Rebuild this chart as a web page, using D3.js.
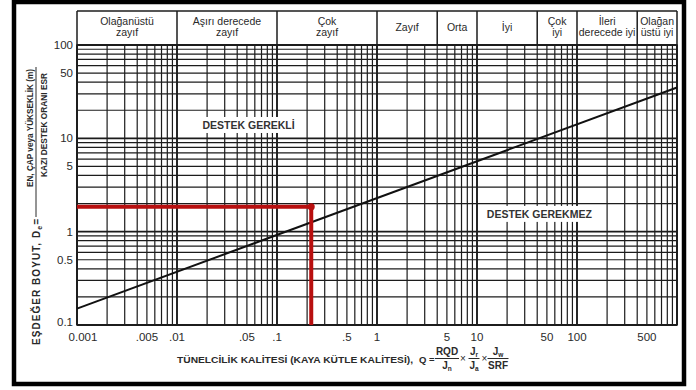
<!DOCTYPE html>
<html>
<head>
<meta charset="utf-8">
<script src="https://cdn.jsdelivr.net/npm/d3@7"></script>
<style>
  html, body { margin: 0; padding: 0; background: #fff; }
  svg { display: block; font-family: "Liberation Sans", Arial, sans-serif; }
</style>
</head>
<body>
<svg id="chart" width="696" height="390"></svg>
<script>
// Rock-mass quality Q (log) against equivalent dimension De (log)
const qDomain = [0.001, 1000];
const deDomain = [0.1, 100];

const qTicks = [0.001, 0.005, 0.01, 0.05, 0.1, 0.5, 1, 5, 10, 50, 100, 500];
const qTickLabels = ["0.001", ".005", ".01", ".05", ".1", ".5", "1", "5", "10", "50", "100", "500"];
const deTicks = [0.1, 0.5, 1, 5, 10, 50, 100];
const deTickLabels = ["0.1", "0.5", "1", "5", "10", "50", "100"];

// rock-mass class boundaries in Q and their names
const classBounds = [0.001, 0.01, 0.1, 1, 4, 10, 40, 100, 400, 1000];
const classNames = [
  ["Olağanüstü", "zayıf"],
  ["Aşırı derecede", "zayıf"],
  ["Çok", "zayıf"],
  ["Zayıf"],
  ["Orta"],
  ["İyi"],
  ["Çok", "iyi"],
  ["İleri", "derecede iyi"],
  ["Olağan", "üstü iyi"]
];

// support / no-support boundary line
const boundaryQ = [0.001, 1000];
const boundaryDe = [0.15, 35];

// worked example point
const exampleQ = 0.22;
const exampleDe = 1.85;

// region labels
const regionLabels = [
  { text: "DESTEK GEREKLİ", q: 0.052, de: 13.9 },
  { text: "DESTEK GEREKMEZ", q: 42, de: 1.55 }
];

(function draw() {
  const svg = d3.select("#chart");
  const pl = 77, pr = 677, pt = 45, pb = 325, headTop = 11;

  const x = d3.scaleLog().domain(qDomain).range([pl, pr]);
  const y = d3.scaleLog().domain(deDomain).range([pb, pt]);

  const ink = "#1c1c1c";

  // outer frame
  svg.append("rect").attr("x", 14).attr("y", 2).attr("width", 670).attr("height", 382)
    .attr("fill", "#fff").attr("stroke", "#000").attr("stroke-width", 4.5);

  const isDecade = v => Math.abs(Math.log10(v) - Math.round(Math.log10(v))) < 1e-9;

  // grid
  const grid = svg.append("g");
  grid.selectAll("line.v").data(x.ticks()).join("line")
    .attr("x1", d => x(d)).attr("x2", d => x(d))
    .attr("y1", pt).attr("y2", pb)
    .attr("stroke", ink).attr("stroke-width", d => isDecade(d) ? 1.9 : 1.2);
  grid.selectAll("line.h").data(y.ticks()).join("line")
    .attr("x1", pl).attr("x2", pr)
    .attr("y1", d => y(d)).attr("y2", d => y(d))
    .attr("stroke", ink).attr("stroke-width", d => isDecade(d) ? 1.9 : 1.2);

  // plot frame
  svg.append("rect").attr("x", pl).attr("y", pt).attr("width", pr - pl).attr("height", pb - pt)
    .attr("fill", "none").attr("stroke", ink).attr("stroke-width", 1.5);

  // class header
  const head = svg.append("g");
  head.append("line").attr("x1", pl).attr("x2", pr).attr("y1", headTop).attr("y2", headTop)
    .attr("stroke", ink).attr("stroke-width", 1.5);
  head.append("line").attr("x1", pl).attr("x2", pr).attr("y1", pt).attr("y2", pt)
    .attr("stroke", ink).attr("stroke-width", 2);
  head.selectAll("line.sep").data(classBounds).join("line")
    .attr("x1", d => x(d)).attr("x2", d => x(d))
    .attr("y1", headTop).attr("y2", pt)
    .attr("stroke", ink).attr("stroke-width", 1.5);
  classNames.forEach((lines, i) => {
    const cx = (x(classBounds[i]) + x(classBounds[i + 1])) / 2;
    const t = head.append("text").attr("x", cx).attr("text-anchor", "middle")
      .attr("font-size", 10.5).attr("fill", "#2a2a2a");
    if (lines.length === 1) {
      t.append("tspan").attr("x", cx).attr("y", 31).text(lines[0]);
    } else {
      t.append("tspan").attr("x", cx).attr("y", 25).text(lines[0]);
      t.append("tspan").attr("x", cx).attr("y", 36).text(lines[1]);
    }
  });

  // region labels with white backing
  regionLabels.forEach(r => {
    const g = svg.append("g");
    const t = g.append("text").attr("x", x(r.q)).attr("y", y(r.de))
      .attr("text-anchor", "middle").attr("dominant-baseline", "central")
      .attr("font-size", 10.5).attr("font-weight", "bold").attr("fill", "#333")
      .text(r.text);
    const b = t.node().getBBox();
    g.insert("rect", "text").attr("x", b.x - 3).attr("y", b.y - 2)
      .attr("width", b.width + 6).attr("height", b.height + 4).attr("fill", "#fff");
  });

  // boundary line
  const lineGen = d3.line().x(d => x(d[0])).y(d => y(d[1]));
  svg.append("path").datum(boundaryQ.map((q, i) => [q, boundaryDe[i]]))
    .attr("d", lineGen).attr("fill", "none").attr("stroke", "#111").attr("stroke-width", 2);

  // worked example
  const red = "#b80f0f";
  svg.append("path")
    .datum([[qDomain[0], exampleDe], [exampleQ, exampleDe], [exampleQ, deDomain[0]]])
    .attr("d", lineGen).attr("fill", "none").attr("stroke", red).attr("stroke-width", 4);
  svg.append("circle").attr("cx", x(exampleQ)).attr("cy", y(exampleDe)).attr("r", 3.5).attr("fill", red);

  // y tick labels
  svg.selectAll("text.yt").data(deTicks).join("text")
    .attr("x", pl - 4).attr("y", (d, i) => y(d) + (i === 0 ? -3 : 0))
    .attr("text-anchor", "end").attr("dominant-baseline", "central")
    .attr("font-size", 11.5).attr("fill", "#2a2a2a")
    .text((d, i) => deTickLabels[i]);

  // x tick labels
  svg.selectAll("text.xt").data(qTicks).join("text")
    .attr("x", (d, i) => x(d) + (i === 0 ? 6 : 0)).attr("y", 337)
    .attr("text-anchor", "middle").attr("dominant-baseline", "central")
    .attr("font-size", 11.5).attr("fill", "#2a2a2a")
    .text((d, i) => qTickLabels[i]);

  // x axis title with Q formula
  const xt = svg.append("g").attr("fill", "#2a2a2a").attr("font-weight", "bold");
  xt.append("text").attr("x", 177).attr("y", 363).attr("font-size", 9.5)
    .attr("textLength", 236).attr("lengthAdjust", "spacingAndGlyphs")
    .text("TÜNELCİLİK KALİTESİ (KAYA KÜTLE KALİTESİ),");
  xt.append("text").attr("x", 419).attr("y", 363).attr("font-size", 9.5).text("Q =");
  function frac(cx, w, num, den) {
    const g = xt.append("g");
    const n = g.append("text").attr("x", cx).attr("y", 355).attr("text-anchor", "middle").attr("font-size", 10);
    n.append("tspan").text(num[0]);
    if (num[1]) n.append("tspan").attr("font-size", 6.5).attr("dy", 1.5).text(num[1]);
    const d = g.append("text").attr("x", cx).attr("y", 369).attr("text-anchor", "middle").attr("font-size", 10);
    d.append("tspan").text(den[0]);
    if (den[1]) d.append("tspan").attr("font-size", 6.5).attr("dy", 1.5).text(den[1]);
    g.append("line").attr("x1", cx - w / 2).attr("x2", cx + w / 2).attr("y1", 358.5).attr("y2", 358.5)
      .attr("stroke", "#2a2a2a").attr("stroke-width", 1);
  }
  frac(447, 24, ["RQD"], ["J", "n"]);
  xt.append("text").attr("x", 463).attr("y", 362).attr("text-anchor", "middle").attr("font-size", 10).attr("font-weight", "normal").text("×");
  frac(474, 11, ["J", "r"], ["J", "a"]);
  xt.append("text").attr("x", 484.5).attr("y", 362).attr("text-anchor", "middle").attr("font-size", 10).attr("font-weight", "normal").text("×");
  frac(498, 21, ["J", "w"], ["SRF"]);

  // y axis title (rotated): De = span / ESR
  const yt = svg.append("g").attr("fill", "#2a2a2a").attr("font-weight", "bold");
  const main = yt.append("text").attr("transform", "translate(40,345) rotate(-90)")
    .attr("font-size", 10).attr("text-anchor", "start")
    .attr("textLength", 126).attr("lengthAdjust", "spacing");
  main.append("tspan").text("EŞDEĞER BOYUT, D");
  main.append("tspan").attr("font-size", 7).attr("dy", 2).text("e");
  main.append("tspan").attr("dy", -2).text("=");
  yt.append("line").attr("x1", 36).attr("x2", 36).attr("y1", 67).attr("y2", 217)
    .attr("stroke", "#2a2a2a").attr("stroke-width", 1);
  yt.append("text").attr("transform", "translate(32.5,187) rotate(-90)")
    .attr("font-size", 9).attr("textLength", 118).attr("lengthAdjust", "spacingAndGlyphs")
    .text("EN, ÇAP veya YÜKSEKLİK (m)");
  yt.append("text").attr("transform", "translate(46.5,177) rotate(-90)")
    .attr("font-size", 9).attr("textLength", 104).attr("lengthAdjust", "spacingAndGlyphs")
    .text("KAZI DESTEK ORANI ESR");
})();
</script>
</body>
</html>
